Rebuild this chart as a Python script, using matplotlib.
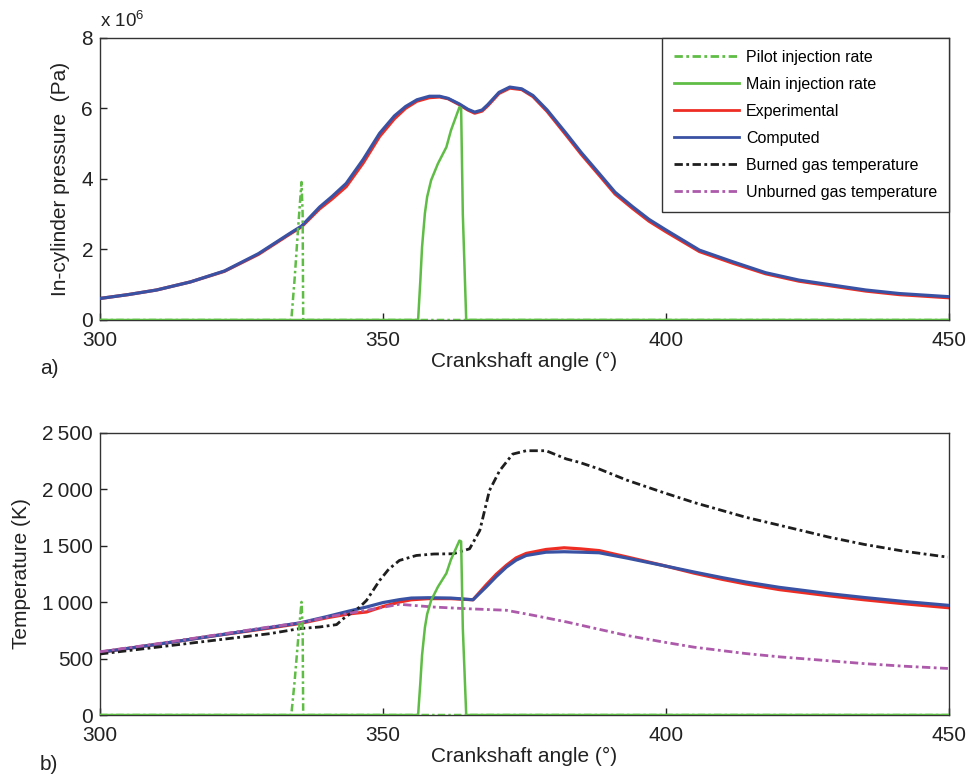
import matplotlib
matplotlib.use("Agg")
import matplotlib.pyplot as plt
from matplotlib.lines import Line2D

plt.rcParams['font.family'] = ['Liberation Sans', 'DejaVu Sans']
plt.rcParams['mathtext.fontset'] = 'custom'
plt.rcParams['mathtext.rm'] = 'Liberation Sans'
plt.rcParams['mathtext.default'] = 'regular'

# in-cylinder pressure (x 1e6 Pa) against crank angle
p_angle = [300, 305, 310, 316, 322, 328, 333.5, 335.6, 338.8, 341, 343.5, 346.5,
           349.4, 352, 354, 356, 358.2, 360, 361.5, 363.5, 365, 366.2, 367.5,
           368.5, 370.5, 372.4, 374.5, 376.5, 379, 382.4, 385, 388.2, 391,
           394.1, 397, 400, 405.9, 411.8, 417.6, 423.5, 429.4, 435.3, 441.2, 450]
p_computed = [0.61, 0.72, 0.85, 1.08, 1.39, 1.88, 2.45, 2.66, 3.2, 3.5, 3.87, 4.55,
              5.29, 5.78, 6.05, 6.24, 6.34, 6.34, 6.28, 6.12, 5.97, 5.89, 5.95,
              6.1, 6.45, 6.6, 6.55, 6.36, 5.95, 5.28, 4.75, 4.15, 3.62,
              3.21, 2.85, 2.55, 1.98, 1.65, 1.34, 1.13, 0.99, 0.85, 0.75, 0.66]
p_experimental = [0.61, 0.72, 0.85, 1.08, 1.38, 1.86, 2.43, 2.64, 3.15, 3.43, 3.78, 4.45,
                  5.2, 5.7, 6.0, 6.2, 6.3, 6.32, 6.27, 6.1, 5.95, 5.86, 5.92,
                  6.07, 6.42, 6.57, 6.53, 6.33, 5.91, 5.23, 4.7, 4.1, 3.57,
                  3.16, 2.8, 2.5, 1.94, 1.61, 1.31, 1.1, 0.96, 0.82, 0.72, 0.63]

# injection rates, in pressure-axis units (x 1e6)
pilot_angle = [300, 333.8, 334.4, 335.0, 335.6, 335.8, 335.9, 450]
pilot_rate = [0, 0, 1.2, 2.6, 3.91, 3.0, 0, 0]
main_angle = [300, 356.2, 356.6, 356.9, 357.4, 357.8, 358.5, 359.7, 361.2, 362.0,
              363.5, 363.8, 364.1, 364.7, 450]
main_rate = [0, 0, 1.13, 2.07, 3.02, 3.49, 3.96, 4.43, 4.9, 5.37,
             6.03, 6.0, 3.0, 0, 0]
rate_to_temp = 256  # same rate curves rescaled onto the temperature axis

# cylinder temperatures (K)
t_angle = [300, 310, 320, 330, 335.3, 340, 344, 347.1, 350, 352.9, 355, 358, 362,
           365.9, 368.2, 370, 371.8, 373.5, 375.3, 378.8, 382, 385, 388.2, 393,
           399.4, 405, 410, 414.1, 420, 428.8, 435, 442, 449.8]
t_computed = [555, 625, 700, 775, 815, 870, 920, 956, 995, 1021, 1035, 1038, 1035,
              1020, 1132, 1225, 1309, 1370, 1412, 1441, 1445, 1441, 1436, 1390,
              1324, 1265, 1215, 1177, 1130, 1074, 1040, 1005, 971]
t_experimental = [555, 625, 700, 770, 810, 860, 895, 912, 960, 1000, 1020, 1030, 1030,
                  1020, 1150, 1245, 1325, 1390, 1430, 1465, 1480, 1470, 1455, 1400,
                  1325, 1255, 1200, 1160, 1110, 1055, 1020, 985, 950]

burned_angle = [300, 310, 320, 330, 335.3, 338.8, 341.8, 343, 345.9, 347.1, 349.4,
                351, 352.9, 355.9, 359, 362.4, 365.3, 367.1, 368.8, 370.6, 372.9,
                375.3, 378.8, 382.4, 384.7, 388.2, 393, 399.4, 405, 414.1, 420,
                428.8, 435, 442, 449.8]
burned_temp = [540, 600, 660, 720, 765, 779, 800, 853, 956, 1015, 1191,
               1290, 1368, 1412, 1425, 1427, 1471, 1633, 1986, 2162, 2309,
               2339, 2339, 2266, 2236, 2177, 2080, 1971, 1880, 1750, 1680,
               1574, 1510, 1450, 1397]

unburned_angle = [300, 310, 320, 330, 335.3, 341, 347.1, 352.9, 358.8, 364.7, 371.8,
                  376.5, 382.4, 387.6, 393, 399.4, 405, 414.1, 420, 428.8, 435,
                  442, 449.8]
unburned_temp = [560, 630, 705, 780, 815, 875, 927, 980, 956, 941, 927,
                 883, 824, 765, 705, 647, 600, 544, 515, 480, 455,
                 432, 412]

p_ticks = [0, 2, 4, 6, 8]
t_ticks = [0, 500, 1000, 1500, 2000, 2500]
t_ticklabels = ['0', '500', '1\u2009000', '1\u2009500', '2\u2009000', '2\u2009500']
x_ticks = [300, 350, 400, 450]

GREEN = '#5fbd45'
RED = '#ee2e24'
BLUE = '#3a52a3'
BLACK = '#1e1e1e'
PURPLE = '#ad5aab'
INK = '#222222'
DASHDOT = (0, (3.0, 1.25, 1.0, 1.25))


def style_axes(ax):
    ax.set_xlim(300, 450)
    ax.set_xticks(x_ticks)
    ax.tick_params(direction='in', length=5, width=1, labelsize=15, colors=INK)
    ax.tick_params(axis='x', pad=8)
    ax.tick_params(axis='y', pad=5)
    for s in ax.spines.values():
        s.set_linewidth(1.0)
        s.set_color('#333333')
    ax.set_xlabel('Crankshaft angle (°)', fontsize=15, labelpad=1, color=INK)


fig = plt.figure(figsize=(9.68, 7.75), dpi=100)
ax1 = fig.add_axes([0.1033, 0.5871, 0.8771, 0.3643])
ax2 = fig.add_axes([0.1033, 0.0774, 0.8771, 0.3645])

# pressure panel
ax1.plot(p_angle, p_experimental, color=RED, lw=2.3, zorder=2)
ax1.plot(p_angle, p_computed, color=BLUE, lw=2.3, zorder=3)
ax1.plot(main_angle, main_rate, color=GREEN, lw=1.8, zorder=4)
ax1.plot(pilot_angle, pilot_rate, color=GREEN, lw=1.8, ls=DASHDOT, zorder=4)
ax1.set_ylim(0, 8)
ax1.set_yticks(p_ticks)
style_axes(ax1)
ax1.set_ylabel('In-cylinder pressure  (Pa)', fontsize=15, labelpad=8, color=INK)
ax1.text(0.0, 1.022, 'x 10$^{6}$', transform=ax1.transAxes, fontsize=13.5,
         ha='left', va='bottom', color=INK)

handles = [
    Line2D([], [], color=GREEN, lw=2, ls=DASHDOT),
    Line2D([], [], color=GREEN, lw=2),
    Line2D([], [], color=RED, lw=2),
    Line2D([], [], color=BLUE, lw=2),
    Line2D([], [], color=BLACK, lw=2, ls=DASHDOT),
    Line2D([], [], color=PURPLE, lw=2, ls=DASHDOT),
]
labels = ['Pilot injection rate', 'Main injection rate', 'Experimental',
          'Computed', 'Burned gas temperature', 'Unburned gas temperature']
leg = ax1.legend(handles, labels, loc='upper right', borderaxespad=0,
                 fontsize=11.5, frameon=True, fancybox=False, framealpha=1,
                 edgecolor='#333333', handlelength=4.1, handletextpad=0.4,
                 labelspacing=0.75, borderpad=0.75)
leg.get_frame().set_linewidth(1.0)

# temperature panel
ax2.plot(t_angle, t_experimental, color=RED, lw=2.3, zorder=2)
ax2.plot(t_angle, t_computed, color=BLUE, lw=2.3, zorder=3)
ax2.plot(burned_angle, burned_temp, color=BLACK, lw=2.0, ls=DASHDOT, zorder=4)
ax2.plot(unburned_angle, unburned_temp, color=PURPLE, lw=2.0, ls=DASHDOT, zorder=4)
ax2.plot(main_angle, [r * rate_to_temp for r in main_rate], color=GREEN, lw=1.8, zorder=5)
ax2.plot(pilot_angle, [r * rate_to_temp for r in pilot_rate], color=GREEN, lw=1.8,
         ls=DASHDOT, zorder=5)
ax2.set_ylim(0, 2500)
ax2.set_yticks(t_ticks)
ax2.set_yticklabels(t_ticklabels)
style_axes(ax2)
ax2.set_ylabel('Temperature (K)', fontsize=15, labelpad=8, color=INK)

fig.text(0.041, 0.524, 'a)', fontsize=15, va='center', color=INK)
fig.text(0.041, 0.013, 'b)', fontsize=15, va='center', color=INK)

fig.savefig('out.png', dpi=100)
